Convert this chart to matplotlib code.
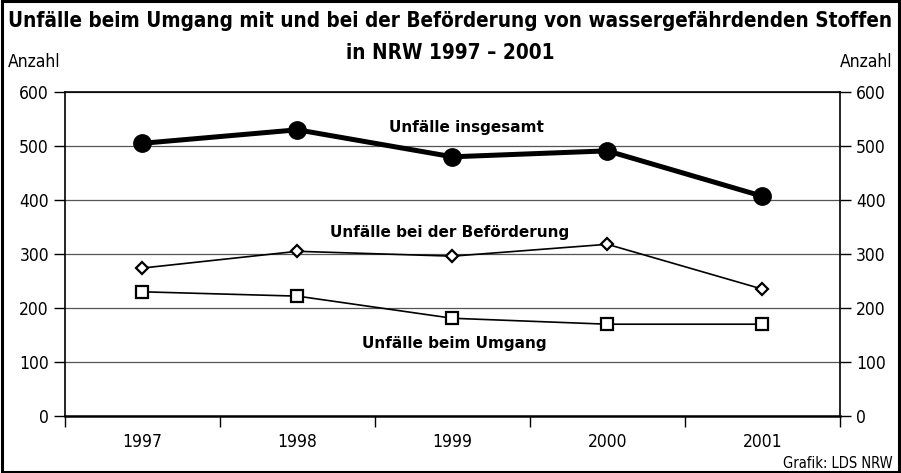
import numpy as np
import matplotlib
matplotlib.use("Agg")
import matplotlib.pyplot as plt
from matplotlib.patches import Rectangle
from matplotlib import font_manager

years = ["1997", "1998", "1999", "2000", "2001"]
insgesamt = [505, 530, 480, 491, 407]
befoerderung = [274, 305, 296, 318, 235]
umgang = [230, 222, 181, 170, 170]

# prefer a narrow face if there is one
names = {f.name for f in font_manager.fontManager.ttflist}
if "Liberation Sans Narrow" in names:
    narrow = ["Liberation Sans Narrow", "DejaVu Sans"]
else:
    narrow = ["DejaVu Sans"]

fig = plt.figure(figsize=(9.01, 4.73), dpi=100)
ax = fig.add_axes([0.0721, 0.1205, 0.860, 0.685])

x = np.arange(len(years))
ax.plot(x, insgesamt, color="black", lw=3.6, marker="o", ms=12.5, zorder=3)
ax.plot(x, befoerderung, color="black", lw=1.2, marker="D", ms=6.5,
        mfc="white", mec="black", mew=1.6, zorder=3)
ax.plot(x, umgang, color="black", lw=1.2, marker="s", ms=9,
        mfc="white", mec="black", mew=1.6, zorder=3)

ax.text(2.09, 535, "Unfälle insgesamt", ha="center", va="center",
        fontsize=11, fontweight="bold")
ax.text(1.98, 339, "Unfälle bei der Beförderung", ha="center", va="center",
        fontsize=11, fontweight="bold")
ax.text(2.01, 135, "Unfälle beim Umgang", ha="center", va="center",
        fontsize=11, fontweight="bold")

ax.set_xlim(-0.5, 4.5)
ax.set_ylim(0, 600)
ax.set_yticks(range(0, 601, 100))
ax.yaxis.grid(True, color="#555555", lw=0.9)
ax.set_axisbelow(True)

# x ticks at category boundaries, labels at centres
ax.set_xticks(np.arange(-0.5, 4.6, 1))
ax.set_xticklabels([])
ax.set_xticks(x, minor=True)
ax.set_xticklabels(years, minor=True, family=narrow, fontstretch="condensed", fontsize=12.5)
ax.tick_params(axis="x", which="major", length=8, width=1, direction="out")
ax.tick_params(axis="x", which="minor", length=0, pad=12)
ax.tick_params(axis="y", length=8, width=1, direction="out",
               left=True, right=True, labelleft=True, labelright=True)
for lab in ax.get_yticklabels():
    lab.set_family(narrow)
    lab.set_fontstretch("condensed")
    lab.set_fontsize(12.5)

for s in ax.spines.values():
    s.set_color("black")
    s.set_linewidth(1.2)
ax.spines["bottom"].set_linewidth(1.8)

t1 = fig.text(0.5, 0.955, "Unfälle beim Umgang mit und bei der Beförderung von wassergefährdenden Stoffen",
              ha="center", va="center", fontsize=14.5, fontweight="bold",
              family=narrow, fontstretch="condensed")
t2 = fig.text(0.5, 0.888, "in NRW 1997 – 2001", ha="center", va="center",
              fontsize=14.5, fontweight="bold", family=narrow, fontstretch="condensed")
fig.text(0.009, 0.868, "Anzahl", ha="left", va="center", fontsize=12.5,
         family=narrow, fontstretch="condensed")
fig.text(0.991, 0.868, "Anzahl", ha="right", va="center", fontsize=12.5,
         family=narrow, fontstretch="condensed")
fig.text(0.991, 0.021, "Grafik: LDS NRW", ha="right", va="center", fontsize=10.5,
         family=narrow, fontstretch="condensed")

# scale the title so it spans the frame like the original
renderer = fig.canvas.get_renderer()
w = t1.get_window_extent(renderer).width
size = 14.5 * 882 / w
t1.set_fontsize(size)
t2.set_fontsize(size)

fig.patches.append(Rectangle((0.002, 0.003), 0.996, 0.994, transform=fig.transFigure,
                             fill=False, edgecolor="black", lw=2.2))

fig.savefig("out.png", dpi=100)
